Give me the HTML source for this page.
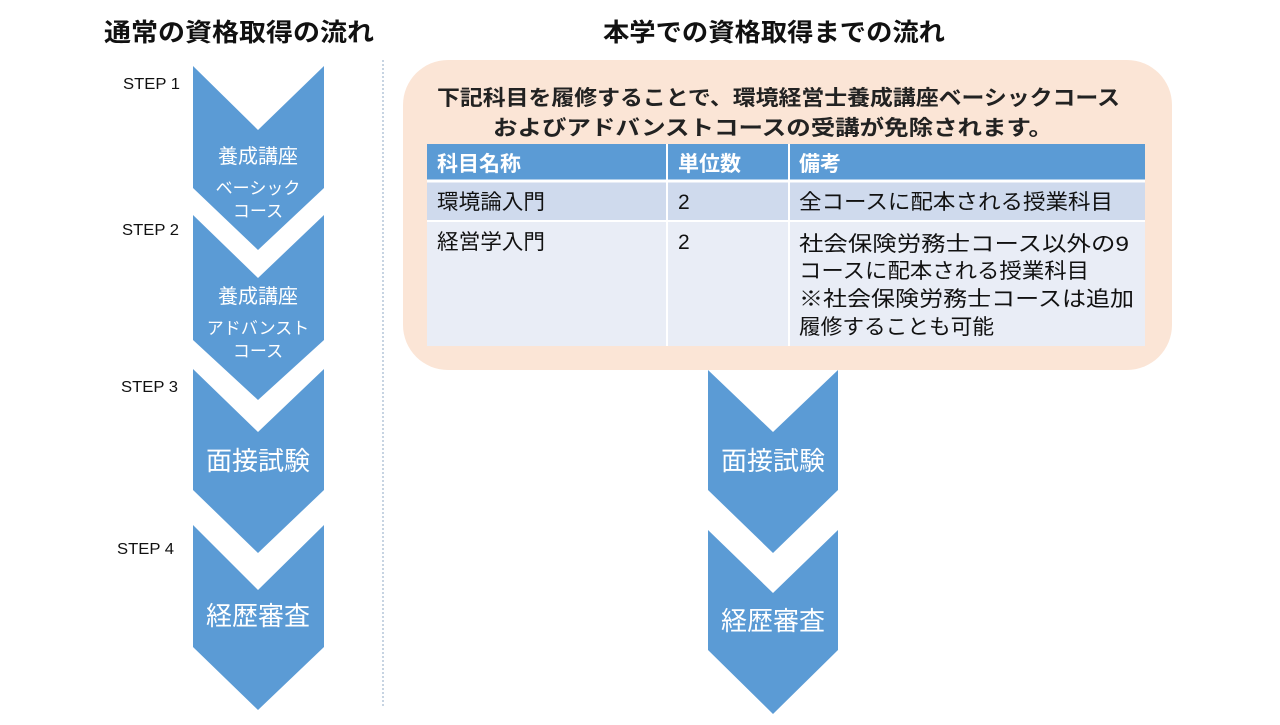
<!DOCTYPE html>
<html><head><meta charset="utf-8"><style>
html,body{margin:0;padding:0;background:#fff;}
svg text{font-family:"Liberation Sans","Noto Sans CJK JP",sans-serif;}
</style></head><body>
<svg width="1280" height="720" viewBox="0 0 1280 720" xmlns="http://www.w3.org/2000/svg">
<text x="104" y="41" font-size="25" font-weight="bold" fill="#111" textLength="270" lengthAdjust="spacingAndGlyphs">通常の資格取得の流れ</text>
<text x="603" y="41" font-size="25" font-weight="bold" fill="#111" textLength="342" lengthAdjust="spacingAndGlyphs">本学での資格取得までの流れ</text>
<line x1="383" y1="60" x2="383" y2="706" stroke="#8fa9c4" stroke-width="1" stroke-dasharray="2,2"/>
<g fill="#5b9bd5">
<polygon points="193,66 258,130 324,66 324,188 258,250 193,188"/>
<polygon points="193,215 258,278 324,215 324,340 258,400 193,340"/>
<polygon points="193,369 258,432 324,369 324,490 258,553 193,490"/>
<polygon points="193,525 258,590 324,525 324,647 258,710 193,647"/>
<polygon points="708,370 773,432 838,370 838,490 773,553 708,490"/>
<polygon points="708,530 773,593 838,530 838,650 773,714 708,650"/>
</g>
<g font-size="16" fill="#111">
<text x="123" y="89" textLength="57" lengthAdjust="spacingAndGlyphs">STEP 1</text>
<text x="122" y="235" textLength="57" lengthAdjust="spacingAndGlyphs">STEP 2</text>
<text x="121" y="392" textLength="57" lengthAdjust="spacingAndGlyphs">STEP 3</text>
<text x="117" y="554" textLength="57" lengthAdjust="spacingAndGlyphs">STEP 4</text>
</g>
<g fill="#fff" text-anchor="middle">
<text x="258" y="163" font-size="20">養成講座</text>
<text x="258" y="194" font-size="17">ベーシック</text>
<text x="258" y="217" font-size="17">コース</text>
<text x="258" y="303" font-size="20">養成講座</text>
<text x="258" y="334" font-size="17">アドバンスト</text>
<text x="258" y="357" font-size="17">コース</text>
<text x="258" y="470" font-size="26">面接試験</text>
<text x="258" y="625" font-size="26">経歴審査</text>
<text x="773" y="470" font-size="26">面接試験</text>
<text x="773" y="630" font-size="26">経歴審査</text>
</g>
<rect x="403" y="60" width="769" height="310" rx="45" fill="#fbe5d6"/>
<text x="437" y="105" font-size="21" font-weight="bold" fill="#222" textLength="683" lengthAdjust="spacingAndGlyphs">下記科目を履修することで、環境経営士養成講座ベーシックコース</text>
<text x="493" y="135" font-size="21" font-weight="bold" fill="#222" textLength="560" lengthAdjust="spacingAndGlyphs">およびアドバンストコースの受講が免除されます。</text>
<rect x="427" y="144" width="718" height="37" fill="#5b9bd5"/>
<rect x="427" y="181" width="718" height="40" fill="#cfdaed"/>
<rect x="427" y="221" width="718" height="125" fill="#e9edf6"/>
<g stroke="#fff" stroke-width="2">
<line x1="427" y1="181" x2="1145" y2="181" stroke-width="3"/>
<line x1="427" y1="221" x2="1145" y2="221"/>
<line x1="667" y1="144" x2="667" y2="346"/>
<line x1="789" y1="144" x2="789" y2="346"/>
</g>
<g font-size="21" fill="#fff" font-weight="bold">
<text x="437" y="171">科目名称</text>
<text x="678" y="171">単位数</text>
<text x="799" y="171">備考</text>
</g>
<g font-size="21" fill="#111">
<text x="437" y="209" textLength="108" lengthAdjust="spacingAndGlyphs">環境論入門</text>
<text x="678" y="209">2</text>
<text x="799" y="209" textLength="314" lengthAdjust="spacingAndGlyphs">全コースに配本される授業科目</text>
<text x="437" y="249" textLength="108" lengthAdjust="spacingAndGlyphs">経営学入門</text>
<text x="678" y="249">2</text>
<text x="799" y="251" textLength="330" lengthAdjust="spacingAndGlyphs">社会保険労務士コース以外の9</text>
<text x="799" y="278" textLength="290" lengthAdjust="spacingAndGlyphs">コースに配本される授業科目</text>
<text x="799" y="306" textLength="335" lengthAdjust="spacingAndGlyphs">※社会保険労務士コースは追加</text>
<text x="799" y="334" textLength="195" lengthAdjust="spacingAndGlyphs">履修することも可能</text>
</g>
</svg>
</body></html>
